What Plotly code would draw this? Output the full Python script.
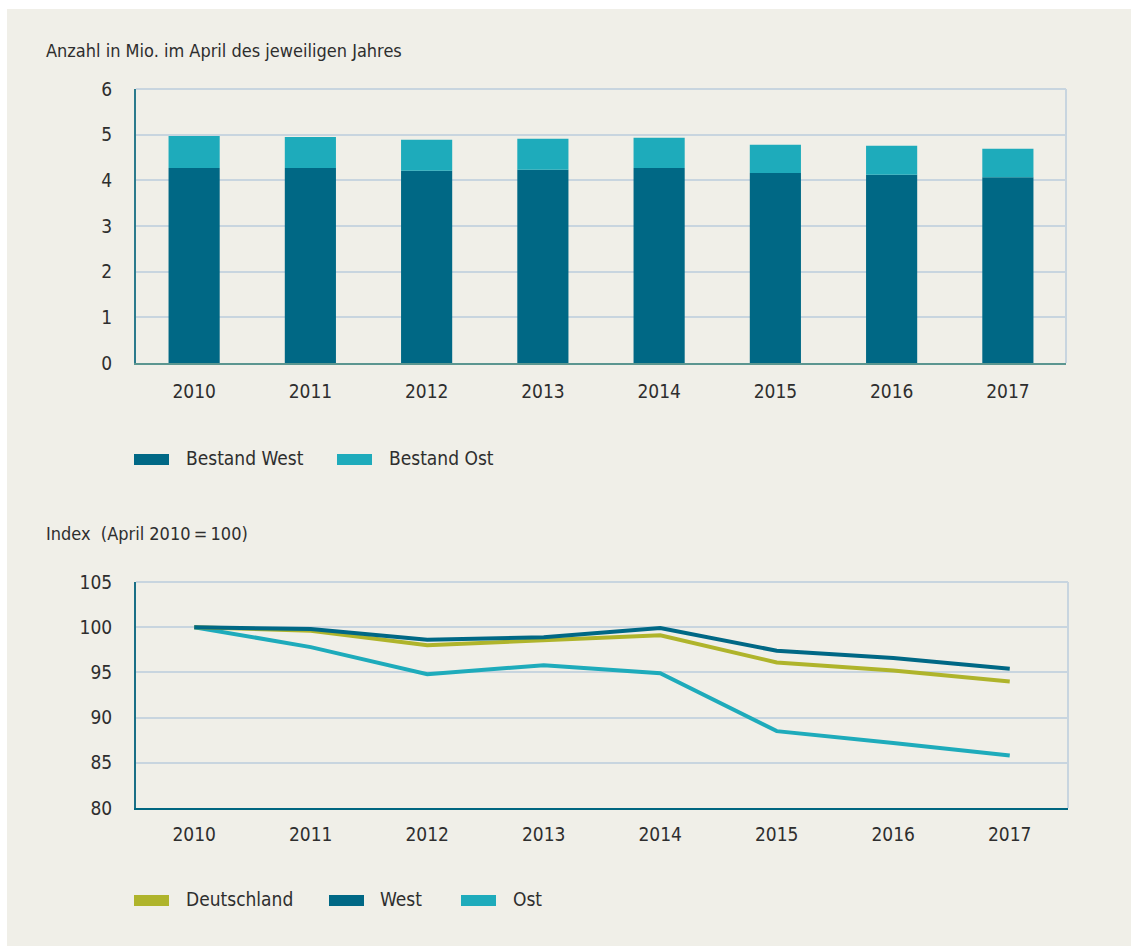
import plotly.graph_objects as go
from plotly.subplots import make_subplots

years = ["2010", "2011", "2012", "2013", "2014", "2015", "2016", "2017"]
bestand_west = [4.27, 4.27, 4.21, 4.23, 4.27, 4.16, 4.12, 4.07]
bestand_ost = [0.70, 0.68, 0.68, 0.68, 0.66, 0.62, 0.64, 0.62]
idx_deutschland = [100, 99.6, 98.0, 98.5, 99.1, 96.1, 95.2, 94.0]
idx_west = [100, 99.8, 98.6, 98.9, 99.9, 97.4, 96.6, 95.4]
idx_ost = [100, 97.8, 94.8, 95.8, 94.9, 88.5, 87.2, 85.8]

C_WEST = "#006885"
C_OST = "#1eabbb"
C_DE = "#afb42b"
BEIGE = "#f0efe8"
GRID = "#c8d5df"
TXT = "#2e2e2e"
FONT = "Liberation Sans Narrow, DejaVu Sans Condensed, sans-serif"

W, H = 1131, 946

fig = make_subplots(rows=2, cols=1)

fig.add_trace(go.Bar(x=years, y=bestand_west, name="Bestand West",
                     marker=dict(color=C_WEST, line=dict(width=0)),
                     showlegend=False), row=1, col=1)
fig.add_trace(go.Bar(x=years, y=bestand_ost, base=bestand_west, name="Bestand Ost",
                     marker=dict(color=C_OST, line=dict(width=0)),
                     showlegend=False), row=1, col=1)

fig.add_trace(go.Scatter(x=years, y=idx_ost, mode="lines", name="Ost",
                         line=dict(color=C_OST, width=4), showlegend=False), row=2, col=1)
fig.add_trace(go.Scatter(x=years, y=idx_deutschland, mode="lines", name="Deutschland",
                         line=dict(color=C_DE, width=4), showlegend=False), row=2, col=1)
fig.add_trace(go.Scatter(x=years, y=idx_west, mode="lines", name="West",
                         line=dict(color=C_WEST, width=4), showlegend=False), row=2, col=1)


def px_x(v):
    return v / W


def px_y(v):
    return 1 - v / H


tickfont = dict(family=FONT, size=19, color=TXT)
common = dict(ticks="", automargin=False, zeroline=False, showline=True, linewidth=2,
              tickfont=tickfont)

fig.update_layout(
    width=W, height=H,
    margin=dict(l=0, r=0, t=0, b=0, autoexpand=False),
    paper_bgcolor="white",
    plot_bgcolor="white",
    barmode="overlay",
    bargap=0.56,
    showlegend=False,
    font=dict(family=FONT, color=TXT),
    xaxis=dict(domain=[px_x(136), px_x(1066)], type="category", range=[-0.5, 7.5],
               linecolor="#5b9690", showgrid=False, ticklabelstandoff=10, **common),
    yaxis=dict(domain=[px_y(363), px_y(89)], range=[0, 6], dtick=1,
               linecolor="#2b7a8c", showgrid=True, gridcolor=GRID, gridwidth=2,
               ticklabelstandoff=18, **common),
    xaxis2=dict(domain=[px_x(136), px_x(1068)], type="category", range=[-0.5, 7.5],
                linecolor="#006680", showgrid=False, ticklabelstandoff=8, **common),
    yaxis2=dict(domain=[px_y(808), px_y(582)], range=[80, 105], dtick=5,
                linecolor="#1a6f86", showgrid=True, gridcolor=GRID, gridwidth=2,
                ticklabelstandoff=18, **common),
)

shapes = [
    dict(type="rect", xref="paper", yref="paper", x0=px_x(7), x1=1, y0=0, y1=px_y(9),
         fillcolor=BEIGE, line=dict(width=0), layer="below"),
    dict(type="line", xref="x domain", yref="y domain", x0=0, x1=1, y0=1, y1=1,
         line=dict(color=GRID, width=2)),
    dict(type="line", xref="x domain", yref="y domain", x0=1, x1=1, y0=0, y1=1,
         line=dict(color=GRID, width=2)),
    dict(type="line", xref="x2 domain", yref="y2 domain", x0=0, x1=1, y0=1, y1=1,
         line=dict(color=GRID, width=2)),
    dict(type="line", xref="x2 domain", yref="y2 domain", x0=1, x1=1, y0=0, y1=1,
         line=dict(color=GRID, width=2)),
]

legend_items = [
    (134, 454, 465, C_WEST, "Bestand West", 184),
    (337, 454, 465, C_OST, "Bestand Ost", 387),
    (134, 895, 906, C_DE, "Deutschland", 184),
    (329, 895, 906, C_WEST, "West", 378),
    (461, 895, 906, C_OST, "Ost", 511),
]
annotations = []
for x0, y0, y1, col, label, tx in legend_items:
    shapes.append(dict(type="rect", xref="paper", yref="paper",
                       x0=px_x(x0), x1=px_x(x0 + 35), y0=px_y(y1), y1=px_y(y0),
                       fillcolor=col, line=dict(width=0)))
    annotations.append(dict(xref="paper", yref="paper", x=px_x(tx), y=px_y((y0 + y1) / 2 - 2),
                            text=label, showarrow=False, xanchor="left", yanchor="middle",
                            font=dict(family=FONT, size=19, color=TXT)))

annotations.append(dict(xref="paper", yref="paper", x=px_x(44), y=px_y(50),
                        text="Anzahl in Mio. im April des jeweiligen Jahres", showarrow=False,
                        xanchor="left", yanchor="middle",
                        font=dict(family=FONT, size=18, color=TXT)))
annotations.append(dict(xref="paper", yref="paper", x=px_x(44), y=px_y(533),
                        text="Index  (April 2010\u2009=\u2009100)", showarrow=False,
                        xanchor="left", yanchor="middle",
                        font=dict(family=FONT, size=18, color=TXT)))

fig.update_layout(shapes=shapes, annotations=annotations)

fig.write_html("out.html")
